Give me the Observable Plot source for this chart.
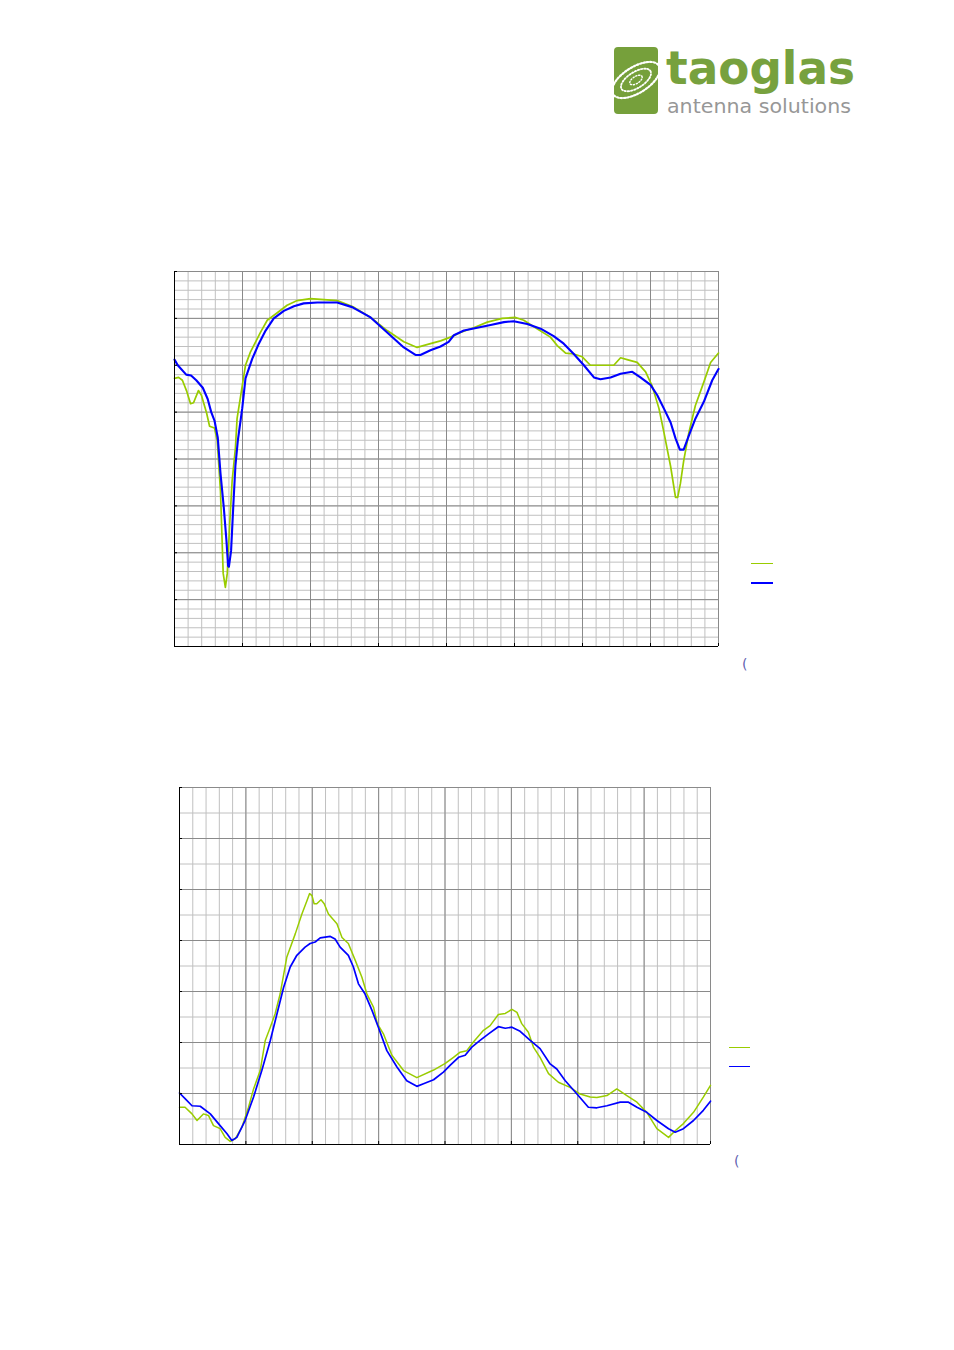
<!DOCTYPE html>
<html>
<head>
<meta charset="utf-8">
<script src="https://cdn.jsdelivr.net/npm/d3@7"></script>
<script src="https://cdn.jsdelivr.net/npm/@observablehq/plot@0.6"></script>
<style>
  html, body { margin: 0; padding: 0; background: #fff; }
  #page { position: relative; width: 954px; height: 1350px; overflow: hidden; background: #fff; font-family: "DejaVu Sans", sans-serif; }
  .abs { position: absolute; }
  .swatch { position: absolute; }
  .paren { position: absolute; font-family: "DejaVu Sans", sans-serif; font-size: 14px; color: #5f5fb0; line-height: 1; }
</style>
</head>
<body>
<div id="page">
  <svg class="abs" style="left:600px;top:30px" width="280" height="100" viewBox="600 30 280 100">
    <rect x="614" y="47" width="44" height="67" rx="4" fill="#76a03b"/>
    <g transform="rotate(-32 636 80)" fill="none" stroke="#fff" stroke-linecap="round">
      <ellipse cx="636" cy="80" rx="27" ry="13" stroke-width="2.2" stroke-dasharray="1.6 1.8"/>
      <ellipse cx="636" cy="80" rx="17" ry="8" stroke-width="1.8" stroke-dasharray="1.4 1.8"/>
      <ellipse cx="636" cy="80" rx="7" ry="3.5" stroke-width="1.4" stroke-dasharray="1.2 1.8"/>
    </g>
    <text x="666" y="84" font-family="DejaVu Sans" font-weight="bold" font-size="46" fill="#77a13e" textLength="189" lengthAdjust="spacingAndGlyphs">taoglas</text>
    <text x="667" y="113" font-family="DejaVu Sans" font-size="19" fill="#979797" textLength="184" lengthAdjust="spacingAndGlyphs">antenna solutions</text>
  </svg>

  <div id="chart1" class="abs" style="left:134px;top:251px"></div>
  <div class="swatch" style="left:751px;top:563px;width:22px;height:1px;background:#99cc00"></div>
  <div class="swatch" style="left:751px;top:582px;width:22px;height:2px;background:#0000ff"></div>
  <div class="paren" style="left:742px;top:657px">(</div>

  <div id="chart2" class="abs" style="left:139px;top:767px"></div>
  <div class="swatch" style="left:729px;top:1047px;width:21px;height:1px;background:#99cc00"></div>
  <div class="swatch" style="left:729px;top:1066px;width:21px;height:1px;background:#0000ff"></div>
  <div class="paren" style="left:734px;top:1154px">(</div>
</div>
<script>
// ---- axis ticks (MHz, dB, VSWR) ----
const freqMajor = d3.range(500, 2501, 250);
const freqMinor = d3.range(500, 2501, 50);
const rlMajor = d3.range(-40, 1, 5);
const rlMinor = d3.range(-40, 1, 1);
const vswrMajor = d3.range(1, 8.01, 1);
const vswrMinor = d3.range(1, 8.01, 0.5);

// ---- return loss, series 1 (green) [MHz, dB] ----
const rlGreen = [
  [500,-11.4],[515,-11.3],[529,-11.6],[544,-12.7],[559,-14.1],[570,-14.0],[588,-12.7],[599,-13.2],
  [618,-15.1],[629,-16.5],[647,-16.7],[657,-18.0],[669,-23.4],[675,-28.7],[679,-32.2],[687,-33.7],
  [694,-32.2],[703,-26.9],[712,-22.3],[724,-18.8],[730,-15.7],[749,-12.2],[761,-10.0],[779,-8.6],
  [816,-6.5],[841,-5.2],[878,-4.4],[914,-3.6],[951,-3.1],[1000,-2.9],[1098,-3.1],[1159,-3.8],
  [1221,-4.9],[1282,-6.3],[1343,-7.5],[1392,-8.1],[1441,-7.7],[1478,-7.4],[1515,-7.0],[1551,-6.5],
  [1600,-6.0],[1650,-5.4],[1705,-5.0],[1754,-4.9],[1784,-5.2],[1833,-6.1],[1882,-7.0],[1907,-7.9],
  [1938,-8.7],[1968,-8.8],[1999,-9.1],[2029,-10.0],[2115,-10.0],[2140,-9.2],[2164,-9.4],[2201,-9.7],
  [2232,-10.7],[2256,-12.2],[2281,-14.6],[2299,-17.1],[2324,-20.8],[2342,-24.1],[2350,-24.1],
  [2360,-22.6],[2372,-20.2],[2391,-17.2],[2415,-14.3],[2446,-11.8],[2471,-9.7],[2500,-8.7]
];
// ---- return loss, series 2 (blue) [MHz, dB] ----
const rlBlue = [
  [500,-9.4],[512,-10.0],[543,-11.0],[561,-11.1],[580,-11.6],[604,-12.4],[622,-13.6],[635,-15.0],
  [647,-15.9],[659,-17.7],[669,-21.5],[681,-25.1],[691,-28.7],[697,-31.4],[700,-31.5],[708,-29.8],
  [716,-25.1],[724,-20.7],[733,-18.0],[749,-14.6],[761,-11.4],[786,-9.3],[810,-7.7],[835,-6.3],
  [865,-5.0],[902,-4.2],[939,-3.7],[975,-3.4],[1025,-3.3],[1098,-3.3],[1153,-3.8],[1221,-4.9],
  [1282,-6.5],[1343,-8.1],[1386,-8.9],[1404,-8.9],[1441,-8.4],[1478,-8.0],[1508,-7.5],[1527,-6.8],
  [1564,-6.3],[1613,-6.0],[1662,-5.7],[1711,-5.4],[1747,-5.3],[1797,-5.6],[1846,-6.1],[1894,-6.9],
  [1931,-7.7],[1968,-8.8],[2005,-10.0],[2042,-11.3],[2066,-11.5],[2103,-11.3],[2140,-10.9],
  [2183,-10.7],[2213,-11.3],[2250,-12.1],[2275,-13.2],[2299,-14.6],[2324,-16.1],[2342,-17.8],
  [2358,-19.0],[2372,-19.0],[2391,-17.5],[2415,-15.7],[2446,-13.9],[2477,-11.6],[2500,-10.4]
];
// ---- VSWR, series 1 (green) [MHz, VSWR] ----
const vswrGreen = [
  [500,1.73],[521,1.73],[547,1.60],[566,1.47],[590,1.60],[609,1.57],[628,1.37],[653,1.31],
  [672,1.14],[691,1.06],[710,1.11],[735,1.34],[760,1.73],[779,2.09],[804,2.45],[823,3.04],
  [842,3.30],[860,3.56],[879,3.95],[904,4.67],[936,5.13],[961,5.52],[980,5.78],[990,5.92],
  [999,5.88],[1007,5.72],[1017,5.72],[1033,5.80],[1045,5.72],[1061,5.52],[1093,5.33],[1112,5.06],
  [1136,4.94],[1162,4.61],[1187,4.28],[1206,3.95],[1231,3.69],[1245,3.37],[1268,3.17],[1300,2.75],
  [1344,2.45],[1394,2.31],[1457,2.46],[1501,2.59],[1532,2.71],[1557,2.81],[1582,2.84],[1607,3.01],
  [1645,3.24],[1670,3.33],[1701,3.55],[1727,3.57],[1752,3.65],[1771,3.59],[1789,3.37],[1814,3.20],
  [1833,2.91],[1858,2.71],[1890,2.39],[1927,2.22],[1971,2.12],[2009,1.99],[2047,1.93],[2072,1.92],
  [2110,1.96],[2147,2.09],[2185,1.96],[2223,1.83],[2260,1.63],[2298,1.31],[2342,1.14],[2367,1.27],
  [2398,1.41],[2436,1.63],[2473,1.93],[2500,2.16]
];
// ---- VSWR, series 2 (blue) [MHz, VSWR] ----
const vswrBlue = [
  [500,2.01],[521,1.90],[547,1.76],[578,1.75],[616,1.60],[653,1.37],[679,1.21],[697,1.08],
  [716,1.14],[747,1.47],[779,1.93],[810,2.45],[842,3.04],[867,3.56],[892,4.08],[917,4.48],
  [942,4.71],[973,4.87],[992,4.94],[1011,4.97],[1030,5.05],[1068,5.08],[1086,5.03],[1105,4.87],
  [1136,4.71],[1155,4.48],[1174,4.15],[1199,3.95],[1225,3.63],[1249,3.30],[1281,2.84],[1319,2.52],
  [1356,2.25],[1394,2.14],[1419,2.19],[1457,2.27],[1494,2.42],[1519,2.55],[1551,2.71],[1576,2.75],
  [1601,2.91],[1632,3.04],[1664,3.17],[1701,3.31],[1727,3.28],[1752,3.30],[1783,3.22],[1821,3.04],
  [1858,2.88],[1896,2.58],[1921,2.48],[1953,2.25],[1997,1.99],[2040,1.73],[2072,1.72],[2110,1.76],
  [2160,1.83],[2191,1.83],[2223,1.73],[2260,1.63],[2298,1.47],[2342,1.31],[2367,1.24],[2398,1.31],
  [2436,1.47],[2473,1.67],[2500,1.85]
];

const GREEN = "#99cc00", BLUE = "#0000ff", MINOR = "#c0c0c0", MAJOR = "#8a8a8a";

function chart({yDomain, yMajor, yMinor, green, blue, innerW, innerH, gw, bw}) {
  return Plot.plot({
    width: 40 + innerW + 20, height: 20 + innerH + 20,
    marginLeft: 40, marginRight: 20, marginTop: 20, marginBottom: 20,
    x: {domain: [500, 2500], axis: null},
    y: {domain: yDomain, axis: null},
    marks: [
      Plot.ruleX(freqMinor, {stroke: MINOR, strokeWidth: 1}),
      Plot.ruleY(yMinor, {stroke: MINOR, strokeWidth: 1}),
      Plot.ruleX(freqMajor, {stroke: MAJOR, strokeWidth: 1}),
      Plot.ruleY(yMajor, {stroke: MAJOR, strokeWidth: 1}),
      Plot.line(green, {x: d => d[0], y: d => d[1], stroke: GREEN, strokeWidth: gw}),
      Plot.line(blue, {x: d => d[0], y: d => d[1], stroke: BLUE, strokeWidth: bw}),
      Plot.ruleX([500], {stroke: "#000", strokeWidth: 1}),
      Plot.ruleY([yDomain[0]], {stroke: "#000", strokeWidth: 1}),
      Plot.ruleX(freqMajor, {stroke: "#000", insetTop: innerH - 3}),
      Plot.ruleY(yMajor, {stroke: "#000", insetRight: innerW - 3})
    ]
  });
}

document.getElementById("chart1").append(chart({
  yDomain: [-40, 0], yMajor: rlMajor, yMinor: rlMinor,
  green: rlGreen, blue: rlBlue, innerW: 544, innerH: 375, gw: 1.7, bw: 2.1
}));
document.getElementById("chart2").append(chart({
  yDomain: [1, 8], yMajor: vswrMajor, yMinor: vswrMinor,
  green: vswrGreen, blue: vswrBlue, innerW: 531, innerH: 357, gw: 1.5, bw: 1.7
}));
</script>
</body>
</html>
